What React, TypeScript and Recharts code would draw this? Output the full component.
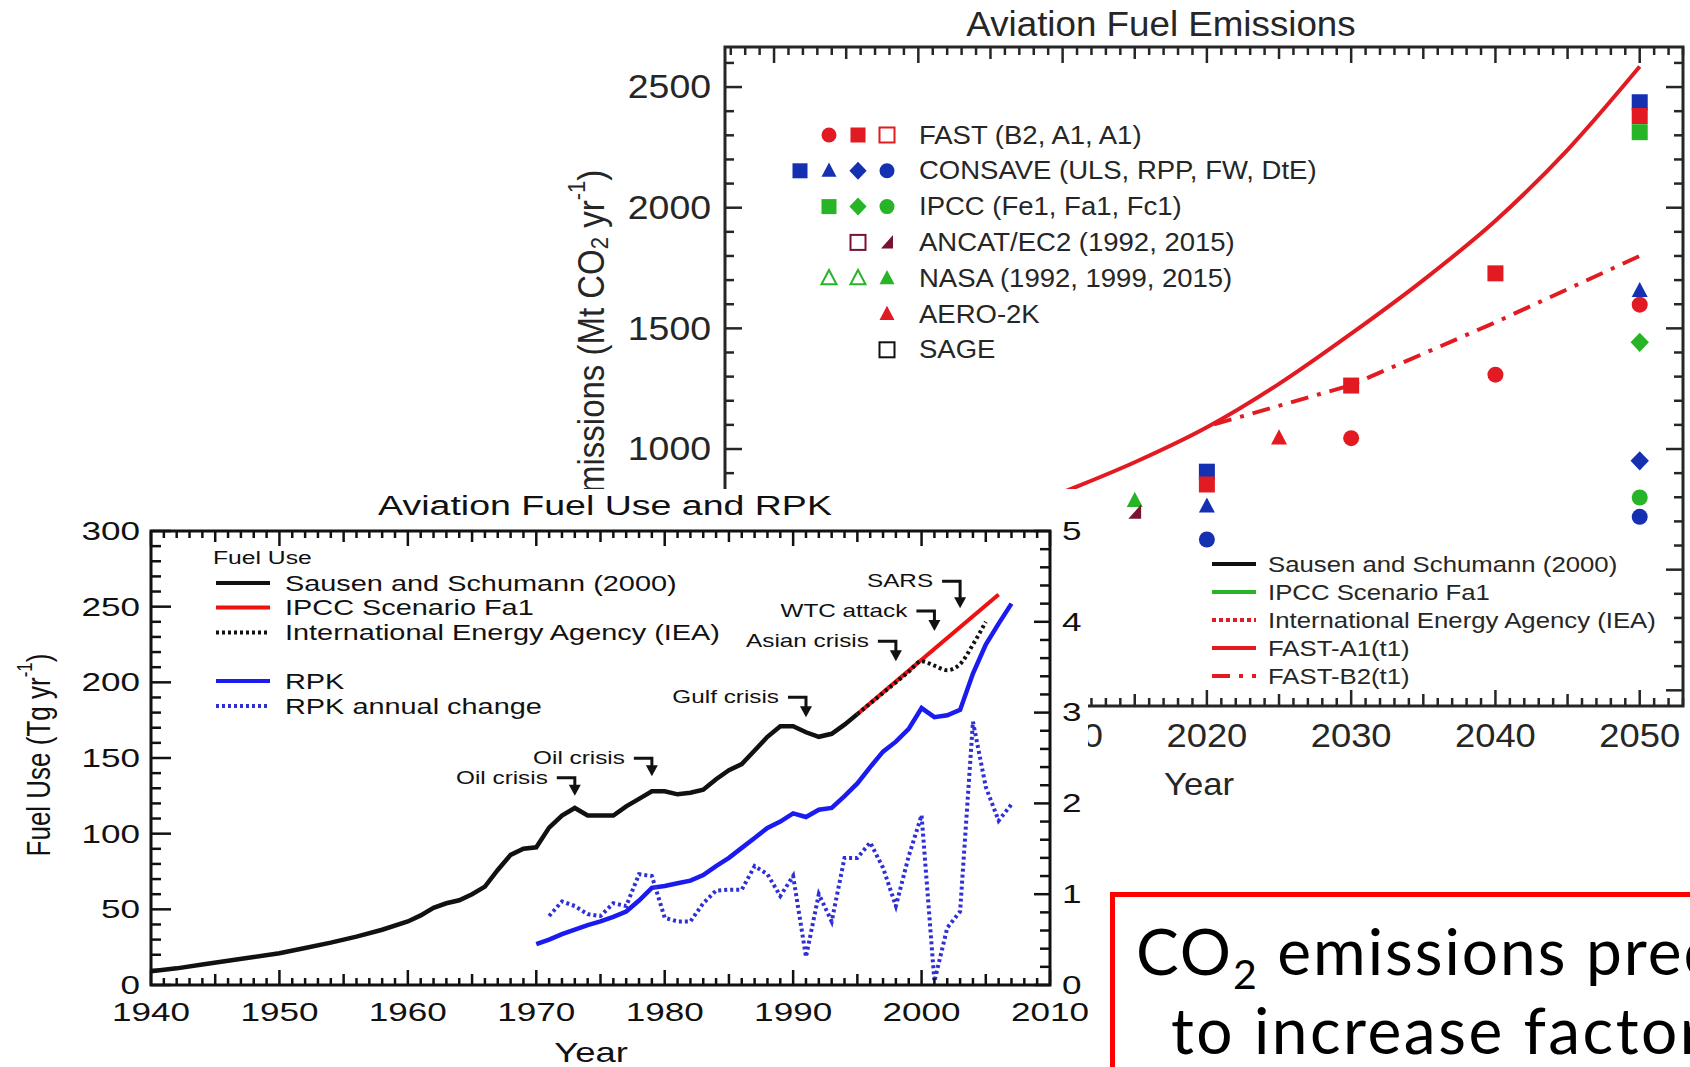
import React from "react";
import {
  LineChart,
  ComposedChart,
  Line,
  Scatter,
  XAxis,
  YAxis,
  ReferenceArea,
  ReferenceDot,
} from "recharts";

const FONT = '"Liberation Sans", Arial, Helvetica, sans-serif';
const INK = "#111";
const INK_B = "#262626";
const RED = "#e21b22";
const BLUE = "#1b1bf0";
const BLUE_DOT = "#2f2fd8";
const MBLUE = "#1530b0";
const GREEN = "#27b427";
const MAROON = "#7a1232";

// ---------- front panel: Aviation Fuel Use and RPK ----------
const sausenYears = [
  1940, 1942, 1944, 1946, 1948, 1950, 1952, 1954, 1956, 1958, 1960, 1961, 1962, 1963, 1964, 1965,
  1966, 1967, 1968, 1969, 1970, 1971, 1972, 1973, 1974, 1975, 1976, 1977, 1978, 1979, 1980, 1981,
  1982, 1983, 1984, 1985, 1986, 1987, 1988, 1989, 1990, 1991, 1992, 1993, 1994, 1995,
];
const sausenFuel = [
  9, 11, 13.5, 16, 18.5, 21, 24.5, 28, 32, 36.5, 42, 46, 51, 54, 56, 60, 65, 76, 86, 90, 91, 104,
  112, 117, 112, 112, 112, 118, 123, 128, 128, 126, 127, 129, 136, 142, 146, 155, 164, 171, 171,
  167, 164, 166, 172, 179,
];
const ipccYears = [1995, 2006];
const ipccFuel = [179, 258];
const ieaYears = [1995, 1996, 1997, 1998, 1999, 2000, 2001, 2002, 2003, 2004, 2005];
const ieaFuel = [179, 186, 193, 200, 207, 214, 211, 208, 212, 225, 240];
const rpkYears = [
  1970, 1971, 1972, 1973, 1974, 1975, 1976, 1977, 1978, 1979, 1980, 1981, 1982, 1983, 1984, 1985,
  1986, 1987, 1988, 1989, 1990, 1991, 1992, 1993, 1994, 1995, 1996, 1997, 1998, 1999, 2000, 2001,
  2002, 2003, 2004, 2005, 2006, 2007,
];
const rpk = [
  0.45, 0.5, 0.56, 0.61, 0.66, 0.7, 0.75, 0.81, 0.93, 1.07, 1.09, 1.12, 1.15, 1.21, 1.31, 1.4, 1.51,
  1.62, 1.73, 1.8, 1.89, 1.85, 1.93, 1.95, 2.08, 2.22, 2.4, 2.57, 2.68, 2.82, 3.05, 2.95, 2.97, 3.03,
  3.43, 3.75, 3.98, 4.2,
];
const rpkChangeYears = rpkYears.slice(1);
const rpkChange = [
  0.76, 0.92, 0.87, 0.78, 0.76, 0.9, 0.87, 1.22, 1.2, 0.74, 0.7, 0.7, 0.9, 1.04, 1.05, 1.05, 1.31,
  1.22, 0.98, 1.2, 0.31, 1.0, 0.7, 1.4, 1.4, 1.57, 1.29, 0.87, 1.42, 1.87, 0.04, 0.63, 0.81, 2.9,
  2.18, 1.81, 1.99,
];
const crisisLabels = ["Oil crisis", "Oil crisis", "Gulf crisis", "Asian crisis", "WTC attack", "SARS"];
const crisisYears = [1973, 1979, 1991, 1998, 2001, 2003];
const crisisTips = [125, 138, 177, 214, 234, 249];
const crisisStems = [18, 18, 20, 20, 20, 27];
const fuelYearLabels = [1940, 1950, 1960, 1970, 1980, 1990, 2000, 2010];
const fuelUseLabels = [0, 50, 100, 150, 200, 250, 300];
const rpkLabels = [0, 1, 2, 3, 4, 5];
const fuelLegendLabels = [
  "Sausen and Schumann (2000)",
  "IPCC Scenario Fa1",
  "International Energy Agency (IEA)",
  "RPK",
  "RPK annual change",
];

// ---------- back panel: Aviation Fuel Emissions ----------
const fastA1Years = [2000, 2005, 2010, 2015, 2020, 2025, 2030, 2035, 2040, 2045, 2050];
const fastA1Line = [610, 700, 820, 945, 1090, 1270, 1478, 1700, 1946, 2240, 2585];
const fastB2Years = [2020.5, 2030, 2040, 2050];
const fastB2Line = [1102, 1265, 1525, 1800];
const sausenEmYears = [1990, 1995, 2000];
const sausenEm = [535, 565, 610];
const ipccEmYears = [1990, 2000, 2005];
const ipccEm = [540, 640, 700];
const ieaEmYears = [1995, 2000, 2005];
const ieaEm = [565, 640, 720];

const fastB2PtYears = [2030, 2040, 2050];
const fastB2Pts = [1045, 1308, 1598];
const fastA1PtYears = [2020, 2030, 2040, 2050];
const fastA1Pts = [853, 1263, 1728, 2380];
const fastBaseYears = [2000];
const fastBase = [600];
const consaveUlsYears = [2020, 2050];
const consaveUls = [906, 2437];
const consaveRppYears = [2020, 2050];
const consaveRpp = [763, 1656];
const consaveFwYears = [2050];
const consaveFw = [951];
const consaveDteYears = [2020, 2050];
const consaveDte = [625, 719];
const ipccFe1Years = [2050];
const ipccFe1 = [2313];
const ipccFa1Years = [2050];
const ipccFa1 = [1442];
const ipccFc1Years = [2050];
const ipccFc1 = [799];
const ancatOpenYears = [1992];
const ancatOpen = [510];
const ancatYears = [2015];
const ancat = [737];
const nasaOpenYears = [1992, 1999];
const nasaOpen = [500, 590];
const nasaYears = [2015];
const nasa = [786];
const aeroYears = [2002, 2025];
const aero = [620, 1045];
const sageYears = [2000];
const sage = [630];

// only the labels that are not covered by the front panel
const emYearLabels = [2010, 2020, 2030, 2040, 2050];
const emMajorTicks = [0, 500, 1000, 1500, 2000, 2500];
const emLabels = [1000, 1500, 2000, 2500];
const markerLegendLabels = [
  "FAST (B2, A1, A1)",
  "CONSAVE (ULS, RPP, FW, DtE)",
  "IPCC (Fe1, Fa1, Fc1)",
  "ANCAT/EC2 (1992, 2015)",
  "NASA (1992, 1999, 2015)",
  "AERO-2K",
  "SAGE",
];
const lineLegendLabels = [
  "Sausen and Schumann (2000)",
  "IPCC Scenario Fa1",
  "International Energy Agency (IEA)",
  "FAST-A1(t1)",
  "FAST-B2(t1)",
];

const range = (a: number, b: number, s: number) => {
  const out: number[] = [];
  for (let v = a; v <= b + 1e-9; v += s) out.push(Math.round(v * 100) / 100);
  return out;
};
const zip = (xs: number[], ys: number[]) => xs.map((year, i) => ({ year, v: ys[i] }));

function T({ x, y, size, sx = 1, anchor = "start", rot = 0, fill = INK, children }: any) {
  return (
    <text
      transform={`translate(${x},${y}) scale(${sx},1)${rot ? ` rotate(${rot})` : ""}`}
      fontSize={size}
      fontFamily={FONT}
      textAnchor={anchor}
      dominantBaseline="central"
      fill={fill}
    >
      {children}
    </text>
  );
}

function Mark({ kind, cx, cy, color, open, s = 8 }: any) {
  const st = open ? { fill: "#fff", stroke: color, strokeWidth: 2 } : { fill: color };
  if (kind === "circle") return <circle cx={cx} cy={cy} r={s} {...st} />;
  if (kind === "square") return <rect x={cx - s} y={cy - s} width={2 * s} height={2 * s} {...st} />;
  if (kind === "triangle")
    return <polygon points={`${cx},${cy - s * 1.1} ${cx + s},${cy + s * 0.8} ${cx - s},${cy + s * 0.8}`} {...st} />;
  if (kind === "diamond")
    return <polygon points={`${cx},${cy - s * 1.2} ${cx + s * 1.15},${cy} ${cx},${cy + s * 1.2} ${cx - s * 1.15},${cy}`} {...st} />;
  return <polygon points={`${cx + s * 0.8},${cy - s} ${cx + s * 0.8},${cy + s * 0.8} ${cx - s * 0.8},${cy + s * 0.8}`} {...st} />;
}

// ---------- front geometry ----------
const F_W = 1088;
const F_H = 578;
const F_PH = 454;

const fuelXTick = (p: any) => {
  const { x, y, payload } = p;
  const v = payload.value;
  const len = v % 10 === 0 ? 15 : v % 5 === 0 ? 11 : 7;
  const top = y - F_PH;
  return (
    <g>
      <line x1={x} x2={x} y1={y} y2={y - len} stroke={INK} strokeWidth={2.5} />
      <line x1={x} x2={x} y1={top} y2={top + len} stroke={INK} strokeWidth={2.5} />
      {fuelYearLabels.includes(v) && (
        <T x={x} y={y + 27} size={26} sx={1.35} anchor="middle">
          {v}
        </T>
      )}
    </g>
  );
};

const fuelYTick = (p: any) => {
  const { x, y, payload } = p;
  const v = payload.value;
  const major = fuelUseLabels.includes(v);
  return (
    <g>
      <line x1={x} x2={x + (major ? 20 : 10)} y1={y} y2={y} stroke={INK} strokeWidth={2.5} />
      {major && (
        <T x={x - 11} y={y} size={26} sx={1.35} anchor="end">
          {v}
        </T>
      )}
    </g>
  );
};

const rpkYTick = (p: any) => {
  const { x, y, payload } = p;
  const v = payload.value;
  const major = rpkLabels.includes(v);
  return (
    <g>
      <line x1={x} x2={x - (major ? 16 : 10)} y1={y} y2={y} stroke={INK} strokeWidth={2.5} />
      {major && (
        <T x={x + 12} y={y} size={26} sx={1.35}>
          {v}
        </T>
      )}
    </g>
  );
};

function Crisis({ cx, cy, text, stem }: any) {
  const hy = cy - stem;
  return (
    <g>
      <T x={cx - 27} y={hy} size={18} sx={1.35} anchor="end">
        {text}
      </T>
      <polyline points={`${cx - 18},${hy} ${cx},${hy} ${cx},${cy - 9}`} stroke={INK} strokeWidth={3} fill="none" />
      <polygon points={`${cx - 6},${cy - 11} ${cx + 6},${cy - 11} ${cx},${cy}`} fill={INK} />
    </g>
  );
}

function FuelPanel() {
  const legendRows = [94, 118.5, 143.5, 192, 217];
  const legendStyles = [
    { c: INK, d: undefined },
    { c: "#ee1111", d: undefined },
    { c: INK, d: "3 3" },
    { c: BLUE, d: undefined },
    { c: BLUE_DOT, d: "3 3" },
  ];
  return (
    <div style={{ position: "relative", width: F_W, height: F_H }}>
      <LineChart width={F_W} height={F_H} margin={{ top: 42, right: 0, bottom: 0, left: 0 }}>
        <XAxis
          dataKey="year"
          type="number"
          domain={[1940, 2010]}
          allowDataOverflow
          ticks={range(1940, 2010, 1)}
          interval={0}
          height={82}
          tickSize={0}
          tickMargin={0}
          axisLine={false}
          tickLine={false}
          tick={fuelXTick}
        />
        <YAxis
          yAxisId="left"
          type="number"
          domain={[0, 300]}
          allowDataOverflow
          ticks={range(0, 300, 10)}
          interval={0}
          width={151}
          tickSize={0}
          tickMargin={0}
          axisLine={false}
          tickLine={false}
          tick={fuelYTick}
        />
        <YAxis
          yAxisId="right"
          orientation="right"
          type="number"
          domain={[0, 5]}
          allowDataOverflow
          ticks={range(0, 5, 0.2)}
          interval={0}
          width={38}
          tickSize={0}
          tickMargin={0}
          axisLine={false}
          tickLine={false}
          tick={rpkYTick}
        />
        <ReferenceArea
          yAxisId="left"
          x1={1940}
          x2={2010}
          y1={0}
          y2={300}
          fill="none"
          stroke={INK}
          strokeWidth={3}
          ifOverflow="visible"
        />
        <Line yAxisId="left" data={zip(sausenYears, sausenFuel)} dataKey="v" type="linear" stroke={INK} strokeWidth={4.5} dot={false} isAnimationActive={false} />
        <Line yAxisId="left" data={zip(ipccYears, ipccFuel)} dataKey="v" type="linear" stroke="#ee1111" strokeWidth={4} dot={false} isAnimationActive={false} />
        <Line yAxisId="left" data={zip(ieaYears, ieaFuel)} dataKey="v" type="monotone" stroke={INK} strokeWidth={4} strokeDasharray="3 3" dot={false} isAnimationActive={false} />
        <Line yAxisId="right" data={zip(rpkYears, rpk)} dataKey="v" type="linear" stroke={BLUE} strokeWidth={4.5} dot={false} isAnimationActive={false} />
        <Line yAxisId="right" data={zip(rpkChangeYears, rpkChange)} dataKey="v" type="linear" stroke={BLUE_DOT} strokeWidth={4} strokeDasharray="3 3" dot={false} isAnimationActive={false} />
        {crisisLabels.map((t, i) => (
          <ReferenceDot
            key={i}
            yAxisId="left"
            x={crisisYears[i]}
            y={crisisTips[i]}
            r={0}
            ifOverflow="visible"
            shape={(p: any) => <Crisis cx={p.cx} cy={p.cy} text={t} stem={crisisStems[i]} />}
          />
        ))}
      </LineChart>
      <svg width={F_W} height={F_H} style={{ position: "absolute", left: 0, top: 0, pointerEvents: "none" }}>
        <T x={605} y={16} size={28} sx={1.34} anchor="middle">
          Aviation Fuel Use and RPK
        </T>
        <T x={38} y={266} size={26} sx={1.3} rot={-90} anchor="middle">
          Fuel Use (Tg yr
          <tspan dy={-11} fontSize={17}>
            -1
          </tspan>
          <tspan dy={11}>)</tspan>
        </T>
        <T x={591} y={564} size={27} sx={1.35} anchor="middle">
          Year
        </T>
        <T x={213} y={69} size={18.3} sx={1.35}>
          Fuel Use
        </T>
        {fuelLegendLabels.map((lab, i) => (
          <g key={lab}>
            <line
              x1={216}
              x2={270}
              y1={legendRows[i]}
              y2={legendRows[i]}
              stroke={legendStyles[i].c}
              strokeWidth={4}
              strokeDasharray={legendStyles[i].d}
            />
            <T x={285} y={legendRows[i]} size={21.4} sx={1.35}>
              {lab}
            </T>
          </g>
        ))}
      </svg>
    </div>
  );
}

// ---------- back geometry ----------
const B_W = 1690;
const B_H = 800;
const B_PW = 958;
const B_PH = 659;

const emXTick = (p: any) => {
  const { x, y, payload } = p;
  const v = payload.value;
  const len = v % 10 === 0 ? 16 : v % 5 === 0 ? 12 : 8;
  const top = y - B_PH;
  return (
    <g>
      <line x1={x} x2={x} y1={y} y2={y - len} stroke={INK_B} strokeWidth={2.5} />
      <line x1={x} x2={x} y1={top} y2={top + len} stroke={INK_B} strokeWidth={2.5} />
      {emYearLabels.includes(v) && (
        <T x={x} y={y + 30} size={33} sx={1.1} anchor="middle" fill={INK_B}>
          {v}
        </T>
      )}
    </g>
  );
};

const emYTick = (p: any) => {
  const { x, y, payload } = p;
  const v = payload.value;
  const len = emMajorTicks.includes(v) ? 17 : 9;
  const xr = x + B_PW;
  return (
    <g>
      <line x1={x} x2={x + len} y1={y} y2={y} stroke={INK_B} strokeWidth={2.5} />
      <line x1={xr} x2={xr - len} y1={y} y2={y} stroke={INK_B} strokeWidth={2.5} />
      {emLabels.includes(v) && (
        <T x={x - 14} y={y} size={34} sx={1.1} anchor="end" fill={INK_B}>
          {v}
        </T>
      )}
    </g>
  );
};

const markerSeries = [
  { id: "fastBase", years: fastBaseYears, vals: fastBase, kind: "square", color: RED, open: true },
  { id: "ancatOpen", years: ancatOpenYears, vals: ancatOpen, kind: "square", color: MAROON, open: true },
  { id: "nasaOpen", years: nasaOpenYears, vals: nasaOpen, kind: "triangle", color: GREEN, open: true },
  { id: "sage", years: sageYears, vals: sage, kind: "square", color: INK, open: true },
  { id: "consaveUls", years: consaveUlsYears, vals: consaveUls, kind: "square", color: MBLUE, open: false },
  { id: "fastA1", years: fastA1PtYears, vals: fastA1Pts, kind: "square", color: RED, open: false },
  { id: "ipccFe1", years: ipccFe1Years, vals: ipccFe1, kind: "square", color: GREEN, open: false },
  { id: "consaveRpp", years: consaveRppYears, vals: consaveRpp, kind: "triangle", color: MBLUE, open: false },
  { id: "fastB2", years: fastB2PtYears, vals: fastB2Pts, kind: "circle", color: RED, open: false },
  { id: "ipccFa1", years: ipccFa1Years, vals: ipccFa1, kind: "diamond", color: GREEN, open: false },
  { id: "consaveFw", years: consaveFwYears, vals: consaveFw, kind: "diamond", color: MBLUE, open: false },
  { id: "ipccFc1", years: ipccFc1Years, vals: ipccFc1, kind: "circle", color: GREEN, open: false },
  { id: "consaveDte", years: consaveDteYears, vals: consaveDte, kind: "circle", color: MBLUE, open: false },
  { id: "nasa", years: nasaYears, vals: nasa, kind: "triangle", color: GREEN, open: false },
  { id: "ancat", years: ancatYears, vals: ancat, kind: "wedge", color: MAROON, open: false },
  { id: "aero", years: aeroYears, vals: aero, kind: "triangle", color: RED, open: false },
];

// legend glyphs per row: [column, kind, colour, open]
const markerLegendGlyphs: [number, string, string, boolean][][] = [
  [[1, "circle", RED, false], [2, "square", RED, false], [3, "square", RED, true]],
  [[0, "square", MBLUE, false], [1, "triangle", MBLUE, false], [2, "diamond", MBLUE, false], [3, "circle", MBLUE, false]],
  [[1, "square", GREEN, false], [2, "diamond", GREEN, false], [3, "circle", GREEN, false]],
  [[2, "square", MAROON, true], [3, "wedge", MAROON, false]],
  [[1, "triangle", GREEN, true], [2, "triangle", GREEN, true], [3, "triangle", GREEN, false]],
  [[3, "triangle", RED, false]],
  [[3, "square", INK, true]],
];

function EmissionsPanel() {
  const lineLegendStyles = [
    { c: INK, d: undefined },
    { c: GREEN, d: undefined },
    { c: RED, d: "4 3" },
    { c: RED, d: undefined },
    { c: RED, d: "18 9 4 9" },
  ];
  return (
    <div style={{ position: "relative", width: B_W, height: B_H }}>
      <ComposedChart width={B_W} height={B_H} margin={{ top: 47, right: 7, bottom: 0, left: 0 }}>
        <XAxis
          dataKey="year"
          type="number"
          domain={[1986.6, 2053]}
          allowDataOverflow
          ticks={range(1987, 2053, 1)}
          interval={0}
          height={94}
          tickSize={0}
          tickMargin={0}
          axisLine={false}
          tickLine={false}
          tick={emXTick}
        />
        <YAxis
          dataKey="v"
          type="number"
          domain={[-65, 2666]}
          allowDataOverflow
          ticks={range(0, 2600, 100)}
          interval={0}
          width={725}
          tickSize={0}
          tickMargin={0}
          axisLine={false}
          tickLine={false}
          tick={emYTick}
        />
        <ReferenceArea
          x1={1986.6}
          x2={2053}
          y1={-65}
          y2={2666}
          fill="none"
          stroke={INK_B}
          strokeWidth={3}
          ifOverflow="visible"
        />
        <Line data={zip(sausenEmYears, sausenEm)} dataKey="v" type="linear" stroke={INK} strokeWidth={4} dot={false} isAnimationActive={false} />
        <Line data={zip(ipccEmYears, ipccEm)} dataKey="v" type="linear" stroke={GREEN} strokeWidth={4} dot={false} isAnimationActive={false} />
        <Line data={zip(ieaEmYears, ieaEm)} dataKey="v" type="linear" stroke={RED} strokeWidth={4} strokeDasharray="4 3" dot={false} isAnimationActive={false} />
        <Line data={zip(fastA1Years, fastA1Line)} dataKey="v" type="monotone" stroke={RED} strokeWidth={4} dot={false} isAnimationActive={false} />
        <Line data={zip(fastB2Years, fastB2Line)} dataKey="v" type="linear" stroke={RED} strokeWidth={4} strokeDasharray="18 9 4 9" dot={false} isAnimationActive={false} />
        {markerSeries.map((s) => (
          <Scatter
            key={s.id}
            data={zip(s.years, s.vals)}
            dataKey="v"
            isAnimationActive={false}
            shape={(p: any) => <Mark kind={s.kind} cx={p.cx} cy={p.cy} color={s.color} open={s.open} />}
          />
        ))}
      </ComposedChart>
      <svg width={B_W} height={B_H} style={{ position: "absolute", left: 0, top: 0, pointerEvents: "none" }}>
        <T x={1161} y={24} size={35} sx={1.05} anchor="middle" fill={INK_B}>
          Aviation Fuel Emissions
        </T>
        <T x={1199} y={784} size={31} sx={1.12} anchor="middle" fill={INK_B}>
          Year
        </T>
        <T x={591} y={376} size={33} sx={1.1} rot={-90} anchor="middle" fill={INK_B}>
          CO
          <tspan dy={8} fontSize={22}>
            2
          </tspan>
          <tspan dy={-8}> emissions (Mt CO</tspan>
          <tspan dy={8} fontSize={22}>
            2
          </tspan>
          <tspan dy={-8}> yr</tspan>
          <tspan dy={-13} fontSize={22}>
            -1
          </tspan>
          <tspan dy={13}>)</tspan>
        </T>
        {markerLegendLabels.map((lab, i) => {
          const y = 135 + i * 35.8;
          return (
            <g key={lab}>
              {markerLegendGlyphs[i].map(([col, kind, color, open], j) => (
                <Mark key={j} kind={kind} cx={800 + col * 29} cy={y} color={color} open={open} s={7.5} />
              ))}
              <T x={919} y={y} size={25} sx={1.1} fill={INK_B}>
                {lab}
              </T>
            </g>
          );
        })}
        {lineLegendLabels.map((lab, i) => {
          const y = 564 + i * 28;
          return (
            <g key={lab}>
              <line x1={1212} x2={1256} y1={y} y2={y} stroke={lineLegendStyles[i].c} strokeWidth={4} strokeDasharray={lineLegendStyles[i].d} />
              <T x={1268} y={y} size={23} sx={1.12} fill={INK_B}>
                {lab}
              </T>
            </g>
          );
        })}
      </svg>
    </div>
  );
}

function NoteBox() {
  return (
    <div
      style={{
        position: "absolute",
        left: 1110,
        top: 892,
        width: 800,
        height: 320,
        border: "5px solid #ff0000",
        background: "#fff",
      }}
    >
      <svg width={800} height={320} style={{ position: "absolute", left: 0, top: 0 }}>
        <text x={21} y={78} fontFamily="Lato, 'Open Sans', sans-serif" fontSize={64} letterSpacing={2} fill="#000">
          CO
          <tspan dy={14} fontSize={41}>
            2
          </tspan>
          <tspan dy={-14}> emissions predicted</tspan>
        </text>
        <text x={56} y={157} fontFamily="Lato, 'Open Sans', sans-serif" fontSize={64} letterSpacing={2.5} fill="#000">
          to increase factor 2–3
        </text>
      </svg>
    </div>
  );
}

export default function App() {
  return (
    <div
      style={{
        position: "fixed",
        left: 0,
        top: 0,
        width: 1690,
        height: 1067,
        overflow: "hidden",
        background: "#fff",
        fontFamily: FONT,
      }}
    >
      <div style={{ position: "absolute", left: 0, top: 0 }}>
        <EmissionsPanel />
      </div>
      <div style={{ position: "absolute", left: 0, top: 489, width: F_W, height: F_H, background: "#fff" }}>
        <FuelPanel />
      </div>
      <NoteBox />
    </div>
  );
}
